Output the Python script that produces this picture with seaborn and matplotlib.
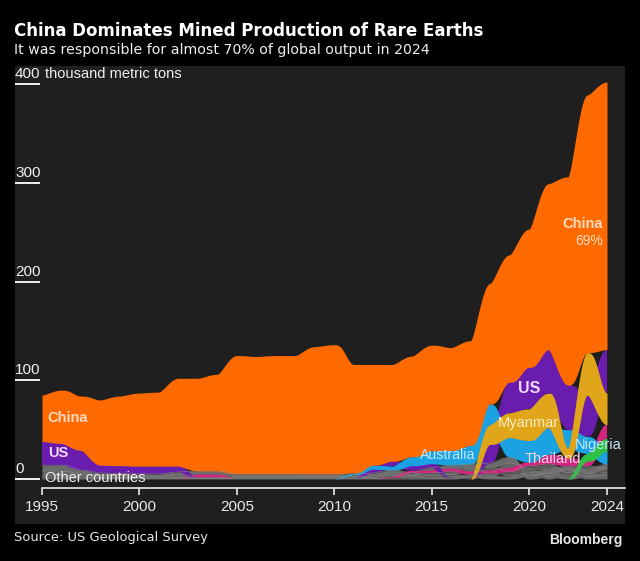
"""Mined production of rare earths, stacked and re-ranked every year."""

import numpy as np
import pandas as pd
import matplotlib.pyplot as plt
import seaborn as sns

W, H = 640, 561

years = list(range(1995, 2025))

# thousand metric tons
china = [47, 54, 55, 66, 70.5, 74, 75, 89, 94, 98, 120, 119, 120, 120, 129,
         131, 110, 102, 98, 102, 107, 104, 106, 122, 129, 140, 168, 211, 261, 271]
us = [24, 22, 20, 8, 8, 8, 8, 6, 0, 0, 0, 0, 0, 0, 0,
      0, 0, 4, 5, 5, 4, 0, 0, 19, 31, 42, 44, 45, 42, 44]
australia = [0, 0, 0, 0, 0, 0, 0, 0, 0, 0, 0, 0, 0, 0, 0,
             0, 2, 4, 4, 9, 13, 15, 19, 21, 20, 22, 27, 19, 17, 13]
myanmar = [0, 0, 0, 0, 0, 0, 0, 0, 0, 0, 0, 0, 0, 0, 0,
           0, 0, 0, 0, 0, 0, 0, 0, 20, 25, 32, 35, 10, 43, 32]
thailand = [0, 0, 0, 0, 0, 0, 0, 0, 3, 3, 0, 0, 0, 0, 0,
            0, 0, 0, 1, 2.5, 2.5, 3, 3, 3, 4, 4, 10, 8, 5, 14]
nigeria = [0, 0, 0, 0, 0, 0, 0, 0, 0, 0, 0, 0, 0, 0, 0,
           0, 0, 0, 0, 0, 0, 0, 0, 0, 0, 0, 0, 0, 8, 13]
india = [6, 6, 4, 2.7, 2.5, 2.5, 2.5, 3, 3.5, 3.5, 2.5, 2.5, 2.5, 2.5, 2.5,
         2.5, 2, 3, 3, 2.5, 3, 3.5, 4, 4, 6, 3, 3, 3, 3, 3.5]
russia = [5, 5, 3, 2, 1.8, 1.5, 1.5, 2.5, 0.8, 0.8, 1.5, 1.5, 1.5, 1.5, 1.5,
          1.5, 1, 1.5, 2.5, 1.5, 2.5, 3, 3.5, 3, 5, 3.5, 2.5, 3.5, 2.5, 3]
brazil = [2, 2, 1.2, 0.8, 0.7, 0.6, 0.6, 1, 0.4, 0.4, 0.6, 0.6, 0.6, 0.6, 0.6,
          0.6, 0.6, 1, 1.5, 1.2, 2, 2.5, 2, 3.5, 4, 3.5, 5, 3, 4, 4]
vietnam = [1, 1, 0.8, 0.5, 0.5, 0.4, 0.4, 0.5, 0.3, 0.3, 0.4, 0.4, 0.4, 0.4, 0.4,
           0.4, 0.4, 0.5, 1, 0.8, 1.5, 2, 2.5, 2.5, 3, 3, 4.5, 3.5, 3.5, 4.5]

y_ticks = [0, 100, 200, 300, 400]
x_ticks = [1995, 2000, 2005, 2010, 2015, 2020, 2024]

series = {
    "India": (india, "#6c6c6c"),
    "Russia": (russia, "#666666"),
    "Brazil": (brazil, "#5c5c5c"),
    "Vietnam": (vietnam, "#6f6f6f"),
    "Thailand": (thailand, "#d4247e"),
    "US": (us, "#6a1cae"),
    "Australia": (australia, "#1aa2e2"),
    "Nigeria": (nigeria, "#2fc046"),
    "Myanmar": (myanmar, "#e0a518"),
    "China": (china, "#ff6a00"),
}
grays = ["India", "Russia", "Brazil", "Vietnam"]

sns.set_theme(style="dark")
plt.rcParams["font.family"] = ["Liberation Sans", "DejaVu Sans"]

# panel runs 15-625 px across, 66-524 px down
fig = plt.figure(figsize=(W / 100, H / 100), dpi=100, facecolor="black")
ax = fig.add_axes([15 / W, 1 - 524 / H, 610 / W, 458 / H], facecolor="#1f1f1f")

px_per_year = (607 - 42) / 29
px_per_unit = (479 - 84) / 400
ax.set_xlim(1995 - 27 / px_per_year, 2024 + 18 / px_per_year)
ax.set_ylim(-(524 - 479) / px_per_unit, (479 - 66) / px_per_unit)

# every year the largest producer goes on top of the stack
names = list(series)
values = np.array([series[n][0] for n in names], dtype=float)
order_key = values + np.arange(len(names))[:, None] * 1e-3
bottoms = np.zeros_like(values)
for j in range(values.shape[1]):
    running = 0.0
    for i in np.argsort(order_key[:, j]):
        bottoms[i, j] = running
        running += values[i, j]
tops = bottoms + values

# bump-chart easing between the yearly stacks
t = np.linspace(1995, 2024, 1740)
idx = np.minimum((t - 1995).astype(int), 28)
frac = (t - 1995) - idx
ease = (1 - np.cos(np.pi * frac)) / 2
BULGE = 0.7


def smooth(edge, is_top):
    """Ease one edge; bands swell a little while they change rank."""
    start, end = edge[idx], edge[idx + 1]
    rising = end > start
    early = ease ** BULGE
    late = ease ** (1 / BULGE)
    weight = np.where(rising == is_top, early, late)
    return start * (1 - weight) + end * weight


frames = []
for i, name in enumerate(names):
    low, high = smooth(bottoms[i], False), smooth(tops[i], True)
    # a band with no output stays a hairline, not a swelling
    thin = smooth(values[i], True) < 0.02
    ax.fill_between(t, low, high, where=~thin,
                    color=series[name][1], lw=0, zorder=2 + i * 0.1)
    if name in grays:
        frames.append(pd.DataFrame({"year": t, "edge": high, "country": name}))

edges = pd.concat(frames, ignore_index=True)
sns.lineplot(data=edges, x="year", y="edge", units="country", estimator=None,
             color="#8a8a8a", lw=0.5, alpha=0.8, ax=ax, zorder=4)

# axes styling
for side in ["top", "right", "left"]:
    ax.spines[side].set_visible(False)
ax.spines["bottom"].set_position(("data", -9 / px_per_unit))
ax.spines["bottom"].set_bounds(1995, ax.get_xlim()[1])
ax.spines["bottom"].set_color("#e8e8e8")
ax.spines["bottom"].set_linewidth(1.2)
ax.grid(False)
ax.set_xlabel("")
ax.set_ylabel("")
ax.set_xticks(x_ticks)
ax.set_xticklabels([str(x) for x in x_ticks])
ax.tick_params(axis="x", colors="#e8e8e8", labelsize=11, length=5, width=1.2,
               pad=3.5, bottom=True)
ax.set_yticks(y_ticks)
ax.set_yticklabels([])
ax.tick_params(axis="y", direction="in", colors="#f0f0f0", length=18, width=1.4,
               left=True)
for v in y_ticks:
    ax.text(0, v + 3, f"{v}", transform=ax.get_yaxis_transform(), color="#f0f0f0",
            fontsize=11, va="bottom", ha="left", zorder=6)
ax.text(1995 - 27 / px_per_year + 30 / px_per_year, 403, "thousand metric tons",
        color="#f0f0f0", fontsize=10.5, va="bottom", ha="left", zorder=6)

# direct labels
bold = dict(fontsize=10.5, fontweight="bold", zorder=6)
ax.text(1995.3, 62, "China", color="#ffdcc0", **bold, va="center")
ax.text(1995.3, 26, "US", color="#f0d8ff", **bold, va="center")
ax.text(2023.8, 258, "China", color="#ffdcc0", **bold, va="center", ha="right")
ax.text(2023.8, 241, "69%", color="#ffdcc0", fontsize=10, va="center", ha="right", zorder=6)
ax.text(2020, 92, "US", color="#f0d8ff", fontsize=11.5, fontweight="bold", va="center",
        ha="center", zorder=6)
ax.text(1995.15, 1, "Other countries", color="#f2f2f2", fontsize=10.5, va="center", zorder=6)
ax.text(2014.4, 24, "Australia", color="#c4e8fb", fontsize=10.2, va="center", zorder=6)
ax.text(2018.4, 57, "Myanmar", color="#fdeec2", fontsize=10.5, va="center", zorder=6)
ax.text(2019.75, 20, "Thailand", color="#fbd5e8", fontsize=10.5, va="center", zorder=6)
ax.text(2022.35, 34, "Nigeria", color="#c4e8fb", fontsize=10.5, va="center", zorder=6)

# header and footer
head = ["DejaVu Sans"]
fig.text(14 / W, 1 - 31 / H, "China Dominates Mined Production of Rare Earths",
         color="white", fontsize=12, fontweight="bold", family=head, va="center")
fig.text(14 / W, 1 - 50 / H, "It was responsible for almost 70% of global output in 2024",
         color="#eeeeee", fontsize=10.15, family=head, va="center")
fig.text(14 / W, 1 - 537 / H, "Source: US Geological Survey", color="#e6e6e6",
         fontsize=9.4, family=head, va="center")
fig.text(622 / W, 1 - 540 / H, "Bloomberg", color="#e6e6e6", fontsize=10,
         fontweight="bold", va="center", ha="right")

fig.savefig("out.png", dpi=100, facecolor=fig.get_facecolor())
plt.close(fig)
